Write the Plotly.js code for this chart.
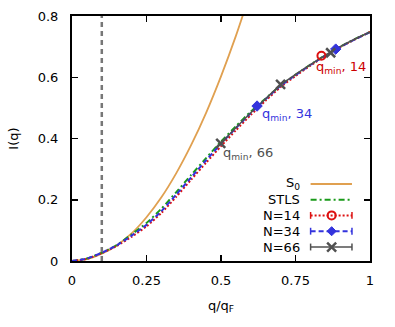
<!DOCTYPE html>
<html>
<head>
<meta charset="utf-8">
<script src="https://cdn.plot.ly/plotly-3.0.1.min.js"></script>
<style>html,body{margin:0;padding:0;background:#fff;}#chart{width:395px;height:327px;}</style>
</head>
<body>
<div id="chart"></div>
<script>
// ---- data ----
var qGrid = [0,0.05,0.1,0.15,0.2,0.25,0.3,0.35,0.4,0.45,0.5,0.55,0.6,0.65,0.7,0.75,0.8,0.85,0.9,0.95,1.0];
var qS0 = [0,0.05,0.1,0.15,0.2,0.25,0.3,0.35,0.4,0.45,0.5,0.55,0.6];
var iS0 = [0,0.006,0.024,0.051,0.090,0.143,0.208,0.287,0.379,0.484,0.603,0.735,0.881];
var iSTLS = [0,0.008,0.027,0.052,0.087,0.124,0.171,0.225,0.281,0.336,0.390,0.440,0.488,0.531,0.573,0.608,0.641,0.672,0.700,0.725,0.748];
var iN34  = [0,0.008,0.027,0.051,0.083,0.118,0.163,0.217,0.273,0.329,0.383,0.434,0.483,0.529,0.572,0.607,0.640,0.671,0.699,0.724,0.747];
var iN14  = [0,0.007,0.026,0.049,0.079,0.113,0.157,0.210,0.266,0.321,0.375,0.427,0.477,0.524,0.568,0.604,0.638,0.670,0.698,0.724,0.748];
var qN66  = [0.5,0.55,0.6,0.65,0.7,0.75,0.8,0.85,0.9,0.95,1.0];
var iN66  = [0.384,0.435,0.484,0.530,0.575,0.609,0.641,0.672,0.700,0.725,0.747];
var qMark14 = [0.837], iMark14 = [0.670];
var qMark34 = [0.621,0.885], iMark34 = [0.506,0.692];
var qMark66 = [0.499,0.700,0.868], iMark66 = [0.384,0.577,0.680];
var qCut = 0.1;
var legendLabels = ['S<sub>0</sub>','STLS','N=14','N=34','N=66'];
var annTexts = ['q<sub>min</sub>, 14','q<sub>min</sub>, 34','q<sub>min</sub>, 66'];
var annQ = [0.812,0.630,0.499];
var annI = [0.632,0.479,0.351];

// ---- styles ----
var cS0='#e0a050', cSTLS='#1a9a1a', c14='#dd1111', c34='#3333dd', c66='#505050';
var F='DejaVu Sans, sans-serif';
function dashOf(k){return ['solid','6px,3px,2px,3px','2px,2px','5px,3px','solid'][k];}
var cols=[cS0,cSTLS,c14,c34,c66];

var traces = [
 {x:qS0,y:iS0,mode:'lines',line:{color:cS0,width:1.8,shape:'spline',smoothing:0.6}},
 {x:qGrid,y:iSTLS,mode:'lines',line:{color:cSTLS,width:2,dash:dashOf(1),shape:'spline',smoothing:0.6}},
 {x:qGrid,y:iN14,mode:'lines',line:{color:c14,width:2,dash:dashOf(2),shape:'spline',smoothing:0.6}},
 {x:qGrid,y:iN34,mode:'lines',line:{color:c34,width:2,dash:dashOf(3),shape:'spline',smoothing:0.6}},
 {x:qN66,y:iN66,mode:'lines',line:{color:c66,width:1.5,shape:'spline',smoothing:0.6}},
 {x:qMark14,y:iMark14,mode:'markers',marker:{symbol:'circle-open',size:8,color:c14,line:{width:2,color:c14}}},
 {x:qMark34,y:iMark34,mode:'markers',marker:{symbol:'diamond',size:8,color:c34,line:{width:1,color:c34}}},
 {x:qMark66,y:iMark66,mode:'markers',marker:{symbol:'x-thin',size:9,color:c66,line:{width:2.5,color:c66}}}
];

// custom legend (text on the left, sample on the right)
var legY=[0.3143,0.2502,0.1861,0.1216,0.0571];
var lx0=0.8007, lx1=0.9395, lxm=0.8713, ltx=0.7704;
var shapes=[{type:'line',xref:'x',yref:'y',x0:qCut,x1:qCut,y0:0,y1:0.8,line:{color:'#777777',width:2.5,dash:'5px,4px'}}];
var annotations=[];
for(var k=0;k<5;k++){
  shapes.push({type:'line',xref:'paper',yref:'paper',x0:lx0,x1:lx1,y0:legY[k],y1:legY[k],line:{color:cols[k],width:k==0?1.8:(k==4?1.5:2),dash:dashOf(k)}});
  if(k>=2){
    shapes.push({type:'line',xref:'paper',yref:'paper',x0:lx0,x1:lx0,y0:legY[k]-0.014,y1:legY[k]+0.014,line:{color:cols[k],width:1.5}});
    shapes.push({type:'line',xref:'paper',yref:'paper',x0:lx1,x1:lx1,y0:legY[k]-0.014,y1:legY[k]+0.014,line:{color:cols[k],width:1.5}});
  }
  annotations.push({xref:'paper',yref:'paper',x:ltx,y:legY[k],xanchor:'right',yanchor:'middle',showarrow:false,text:legendLabels[k],font:{family:F,size:13,color:'#000'}});
}
traces.push({x:[lxm],y:[legY[2]],xaxis:'x2',yaxis:'y2',mode:'markers',marker:{symbol:'circle-open',size:8,color:c14,line:{width:2,color:c14}}});
traces.push({x:[lxm],y:[legY[3]],xaxis:'x2',yaxis:'y2',mode:'markers',marker:{symbol:'diamond',size:7,color:c34,line:{width:1,color:c34}}});
traces.push({x:[lxm],y:[legY[4]],xaxis:'x2',yaxis:'y2',mode:'markers',marker:{symbol:'x-thin',size:9,color:c66,line:{width:2.5,color:c66}}});

var annCols=['#cc0000','#3333dd','#505050'];
for(var j=0;j<3;j++){
  annotations.push({x:annQ[j],y:annI[j],xref:'x',yref:'y',xanchor:'left',yanchor:'middle',showarrow:false,text:annTexts[j],font:{family:F,size:13,color:annCols[j]}});
}

var axBase={showgrid:false,zeroline:false,showline:true,linecolor:'#000',linewidth:2,mirror:'allticks',ticks:'inside',ticklen:6,tickwidth:1.5,tickcolor:'#000',tickfont:{family:F,size:13,color:'#000'}};
var layout={
  width:395,height:327,margin:{l:72,r:25,t:16,b:66},
  paper_bgcolor:'#fff',plot_bgcolor:'#fff',showlegend:false,
  xaxis:Object.assign({},axBase,{range:[0,1],tickvals:[0,0.25,0.5,0.75,1],ticktext:['0','0.25','0.5','0.75','1'],ticklabelstandoff:6,
    title:{text:'q/q<sub>F</sub>',font:{family:F,size:13,color:'#000'},standoff:14}}),
  yaxis:Object.assign({},axBase,{range:[0,0.8],tickvals:[0,0.2,0.4,0.6,0.8],ticktext:['0','0.2','0.4','0.6','0.8'],ticklabelstandoff:9,
    title:{text:'I(q)',font:{family:F,size:13,color:'#000'},standoff:16}}),
  xaxis2:{overlaying:'x',range:[0,1],visible:false,fixedrange:true},
  yaxis2:{overlaying:'y',range:[0,1],visible:false,fixedrange:true},
  shapes:shapes,annotations:annotations
};
Plotly.newPlot('chart',traces,layout,{staticPlot:true,displayModeBar:false});
</script>
</body>
</html>
